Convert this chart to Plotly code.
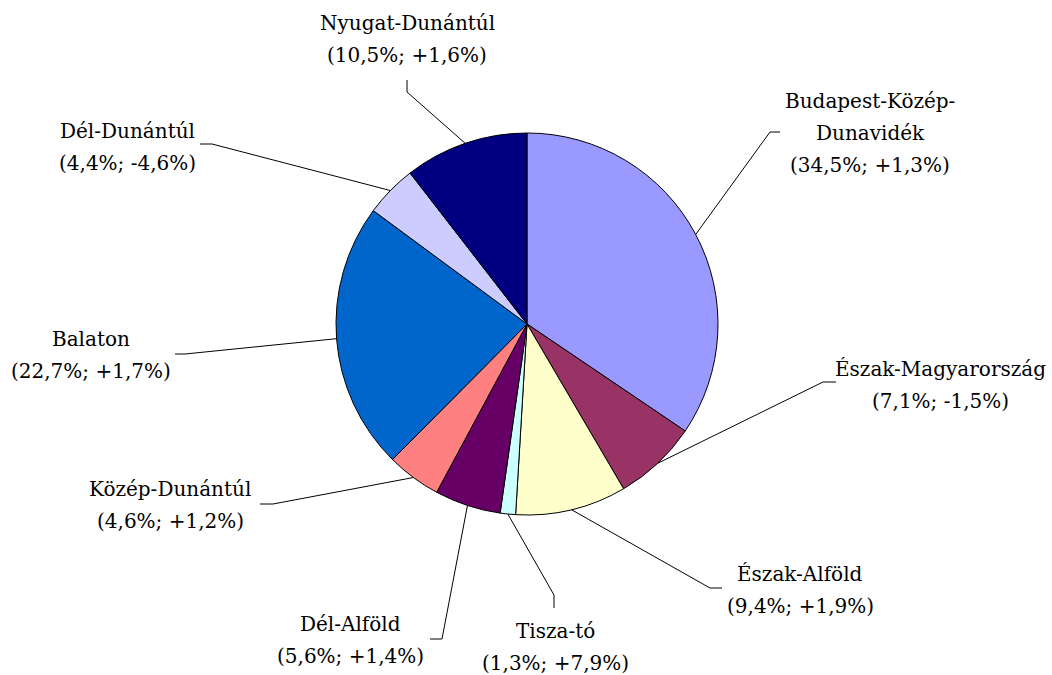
import math
import plotly.graph_objects as go

W, H = 1052, 675

regions = ["Budapest-Közép-Dunavidék", "Észak-Magyarország", "Észak-Alföld", "Tisza-tó",
           "Dél-Alföld", "Közép-Dunántúl", "Balaton", "Dél-Dunántúl", "Nyugat-Dunántúl"]
shares = [34.5, 7.1, 9.4, 1.3, 5.6, 4.6, 22.7, 4.4, 10.5]
changes = ["+1,3%", "-1,5%", "+1,9%", "+7,9%", "+1,4%", "+1,2%", "+1,7%", "-4,6%", "+1,6%"]
label_lines = [["Budapest-Közép-", "Dunavidék"], ["Észak-Magyarország"], ["Észak-Alföld"], ["Tisza-tó"],
               ["Dél-Alföld"], ["Közép-Dunántúl"], ["Balaton"], ["Dél-Dunántúl"], ["Nyugat-Dunántúl"]]
colors = ["#9999FF", "#993366", "#FFFFCC", "#CCFFFF", "#660066", "#FF8080", "#0066CC", "#CCCCFF", "#000080"]

# layout (pixel positions)
CX, CY, R = 527, 324, 191
label_pos = [(870, 101), (940, 369), (800, 574), (555, 631), (350, 624), (170, 489), (91, 339), (127, 131), (407, 23)]
elbows = [((770, 132), (780, 132)), ((823, 382), (836, 382)), ((710, 588), (722, 588)), ((554, 595), (554, 608)),
          ((442, 639), (430, 639)), ((273, 504), (260, 504)), ((185, 354), (175, 354)), ((212, 144), (200, 144)),
          ((407, 92), (407, 80))]
LS = 32
FONT = "DejaVu Serif"

def px(x):
    return x / W

def py(y):
    return 1 - y / H

fig = go.Figure(go.Pie(
    labels=regions, values=shares, sort=False, direction="clockwise", rotation=0,
    marker=dict(colors=colors, line=dict(color="black", width=1)),
    textinfo="none", hoverinfo="label+percent", showlegend=False,
    domain=dict(x=[px(CX - R), px(CX + R)], y=[py(CY + R), py(CY - R)]),
))

total = sum(shares)
shapes = []
annotations = []
cum = 0
for i, v in enumerate(shares):
    mid = (cum + v / 2) / total * 2 * math.pi
    cum += v
    sx = CX + R * math.sin(mid)
    sy = CY - R * math.cos(mid)
    (ex, ey), (fx, fy) = elbows[i]
    shapes.append(dict(type="path", xref="paper", yref="paper",
                       path=f"M {px(sx)} {py(sy)} L {px(ex)} {py(ey)} L {px(fx)} {py(fy)}",
                       line=dict(color="black", width=1)))
    lines = label_lines[i] + [f"({shares[i]:.1f}%; {changes[i]})".replace(".", ",")]
    lx, ly = label_pos[i]
    for j, t in enumerate(lines):
        annotations.append(dict(x=px(lx), y=py(ly + j * LS), xref="paper", yref="paper",
                                text=t, showarrow=False, xanchor="center", yanchor="middle",
                                font=dict(family=FONT, size=20, color="black")))

fig.update_layout(
    width=W, height=H, margin=dict(l=0, r=0, t=0, b=0),
    paper_bgcolor="white", plot_bgcolor="white",
    font=dict(family=FONT),
    shapes=shapes, annotations=annotations,
)
fig.write_html("out.html", config=dict(displayModeBar=False),
               post_script="document.body.style.margin='0';document.body.style.overflow='hidden';")
